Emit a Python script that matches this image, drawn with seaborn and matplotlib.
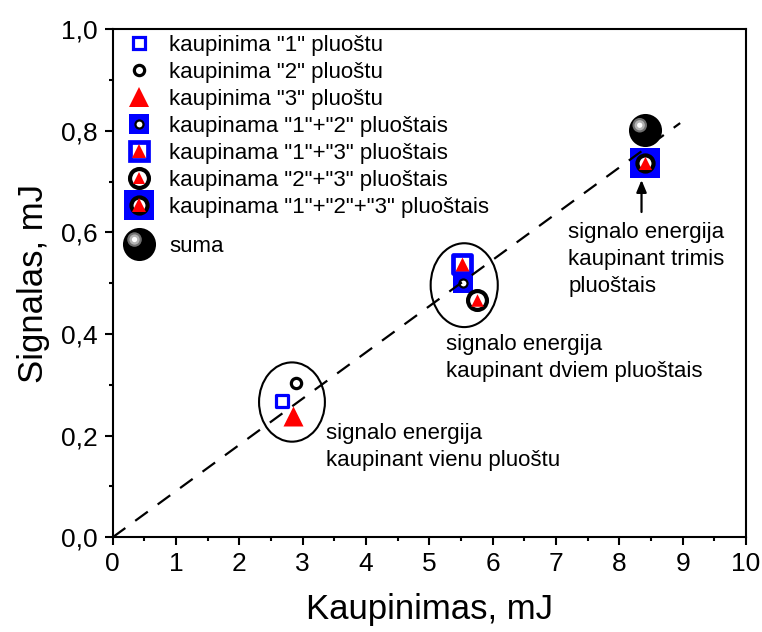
import numpy as np
import matplotlib
matplotlib.use("Agg")
import matplotlib.pyplot as plt
from matplotlib.lines import Line2D
from matplotlib.patches import Ellipse
from matplotlib.path import Path
from matplotlib.markers import MarkerStyle
from matplotlib.legend_handler import HandlerTuple
from matplotlib.ticker import MultipleLocator
import seaborn as sns

# ---- data: pump energy (mJ) vs. signal energy (mJ) ----
labels = ['kaupinima "1" pluoštu', 'kaupinima "2" pluoštu', 'kaupinima "3" pluoštu',
          'kaupinama "1"+"2" pluoštais', 'kaupinama "1"+"3" pluoštais',
          'kaupinama "2"+"3" pluoštais', 'kaupinama "1"+"2"+"3" pluoštais', 'suma']
pump = [2.67, 2.89, 2.84, 5.53, 5.51, 5.75, 8.40, 8.40]
signal = [0.268, 0.303, 0.239, 0.500, 0.537, 0.467, 0.736, 0.801]

# linear trend through the origin
trend_x = [0.0, 8.96]
trend_y = [0.0, 0.815]

xticks = list(range(0, 11))
yticks = [0.0, 0.2, 0.4, 0.6, 0.8, 1.0]
ytick_labels = ["0,0", "0,2", "0,4", "0,6", "0,8", "1,0"]

BLUE, RED, BLACK, WHITE = "#0000ff", "#ff0000", "#000000", "#ffffff"


def highlight(r):
    """Off-centre disc used for the glossy highlight of the sphere marker."""
    frame = Path([(-1, -1), (1, 1)], [Path.MOVETO, Path.MOVETO])
    disc = Path.circle(center=(-0.30, 0.30), radius=r)
    return MarkerStyle(Path.make_compound_path(frame, disc))


# marker layers for each series: (marker, size pt, face, edge, edge width)
styles = [
    [("s", 8.6, WHITE, BLUE, 2.3)],
    [("o", 7.4, WHITE, BLACK, 2.3)],
    [("^", 14.4, RED, RED, 0.0)],
    [("s", 14.4, BLUE, BLUE, 0.0), ("o", 5.8, WHITE, BLACK, 1.6)],
    [("s", 12.5, WHITE, BLUE, 3.4), ("^", 10.0, RED, RED, 0.0)],
    [("o", 13.6, WHITE, BLACK, 3.0), ("^", 9.0, RED, RED, 0.0)],
    [("s", 21.0, BLUE, BLUE, 0.0), ("o", 11.6, WHITE, BLACK, 3.0), ("^", 9.4, RED, RED, 0.0)],
    [("o", 23.8, BLACK, BLACK, 0.0), (highlight(0.44), 23.8, "#707070", "none", 0.0),
     (highlight(0.31), 23.8, "#b4b4b4", "none", 0.0),
     (highlight(0.16), 23.8, "#ffffff", "none", 0.0)],
]

sns.set_theme(style="ticks")
plt.rcParams["font.family"] = ["Liberation Sans", "DejaVu Sans"]
plt.rcParams.update({"text.color": BLACK, "axes.labelcolor": BLACK,
                     "xtick.color": BLACK, "ytick.color": BLACK})

fig = plt.figure(figsize=(7.62, 6.32), dpi=100)
ax = fig.add_axes([0.148, 0.150, 0.831, 0.804])

# dashed trend line
sns.lineplot(x=trend_x, y=trend_y, ax=ax, color=BLACK, linewidth=1.6,
             linestyle=(0, (7, 5.5)), zorder=3)

# grouping ellipses around single- and two-beam results
ax.add_patch(Ellipse((2.83, 0.266), 1.04, 0.156, fill=False, ec=BLACK, lw=1.5, zorder=2))
ax.add_patch(Ellipse((5.55, 0.496), 1.06, 0.165, fill=False, ec=BLACK, lw=1.5, zorder=2))

handles = []
for x, y, layers in zip(pump, signal, styles):
    parts = []
    for mk, size, face, edge, lw in layers:
        sns.scatterplot(x=[x], y=[y], ax=ax, marker=mk, s=size ** 2, color=face,
                        edgecolor=edge, linewidth=lw, zorder=2.5, legend=False)
        parts.append(Line2D([], [], linestyle="none", marker=mk, markersize=size,
                            markerfacecolor=face, markeredgecolor=edge,
                            markeredgewidth=lw))
    handles.append(tuple(parts))

leg_kw = dict(frameon=False, fontsize=16, handlelength=1.8, handletextpad=0.47,
              borderaxespad=0.0, borderpad=0.27, labelspacing=0.27,
              handler_map={tuple: HandlerTuple(ndivide=1)})
leg1 = ax.legend(handles[:7], labels[:7], loc="upper left",
                 bbox_to_anchor=(0.0, 1.0), **leg_kw)
ax.add_artist(leg1)
ax.legend(handles[7:], labels[7:], loc="upper left",
          bbox_to_anchor=(0.0, 0.605), **leg_kw)

# annotations
ax.annotate("", xy=(8.35, 0.703), xytext=(8.35, 0.640),
            arrowprops=dict(arrowstyle="-|>,head_length=0.6,head_width=0.25",
                            color=BLACK, lw=1.6, shrinkA=0, shrinkB=0))
ax.text(7.19, 0.620, "signalo energija\nkaupinant trimis\npluoštais", fontsize=16,
        ha="left", va="top", linespacing=1.38)
ax.text(5.26, 0.400, "signalo energija\nkaupinant dviem pluoštais", fontsize=16,
        ha="left", va="top", linespacing=1.38)
ax.text(3.36, 0.224, "signalo energija\nkaupinant vienu pluoštu", fontsize=16,
        ha="left", va="top", linespacing=1.38)

# axes
ax.set_xlim(0, 10)
ax.set_ylim(0, 1.0)
ax.set_xticks(xticks)
ax.set_yticks(yticks)
ax.set_yticklabels(ytick_labels)
ax.xaxis.set_minor_locator(MultipleLocator(0.5))
ax.yaxis.set_minor_locator(MultipleLocator(0.1))
ax.tick_params(which="major", direction="out", length=6, width=1.5, labelsize=19,
               pad=5, colors=BLACK, top=False, right=False)
ax.tick_params(which="minor", direction="out", length=3, width=1.5,
               top=False, right=False)
for sp in ax.spines.values():
    sp.set_visible(True)
    sp.set_linewidth(1.5)
    sp.set_color(BLACK)
ax.set_xlabel("Kaupinimas, mJ", fontsize=25, labelpad=12)
ax.set_ylabel("Signalas, mJ", fontsize=25, labelpad=8)

fig.savefig("out.png", dpi=100, facecolor="white")
